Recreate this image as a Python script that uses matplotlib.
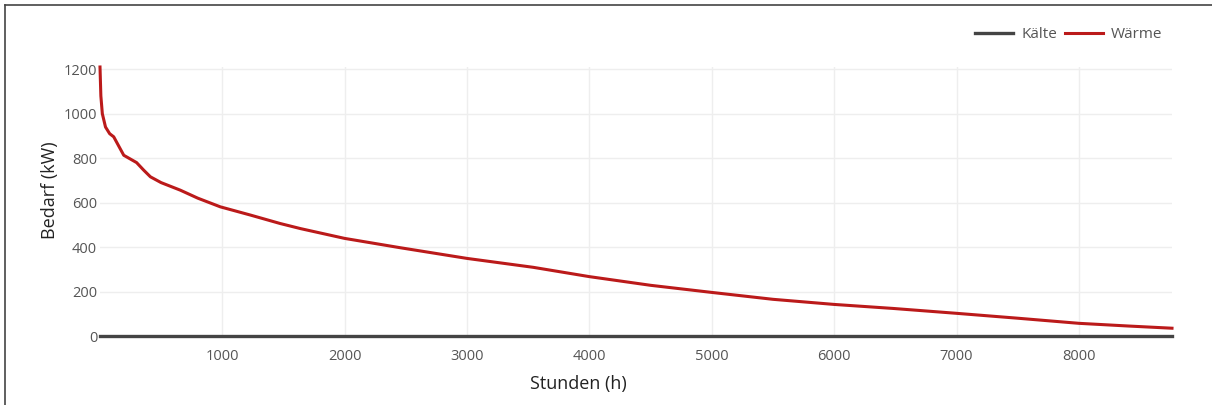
import matplotlib
matplotlib.use("Agg")
import matplotlib.pyplot as plt
from matplotlib.lines import Line2D

# load duration curve
hours = [1, 8, 20, 46, 80, 113, 195, 300, 358, 413, 500, 657, 800, 984,
         1230, 1473, 1640, 2000, 2455, 3000, 3540, 4000, 4500, 5000, 5500,
         6000, 6480, 7000, 7500, 8000, 8400, 8760]
waerme = [1210, 1080, 1000, 940, 910, 896, 813, 780, 746, 716, 690, 656,
          620, 581, 544, 506, 483, 439, 397, 349, 309, 267, 228, 196, 165,
          142, 124, 102, 80, 57, 45, 35]
kaelte_hours = [1, 8760]
kaelte = [0, 0]

x_ticks = [1000, 2000, 3000, 4000, 5000, 6000, 7000, 8000]
y_ticks = [0, 200, 400, 600, 800, 1000, 1200]

W, H = 1212, 405
plt.rcParams["font.family"] = ["Open Sans", "DejaVu Sans"]

fig = plt.figure(figsize=(W / 100, H / 100), dpi=100)
ax = fig.add_axes([100 / W, 1 - 336 / H, (1172 - 100) / W, (336 - 67) / H])

ax.plot(kaelte_hours, kaelte, color="#444444", lw=2.4, clip_on=False,
        label="Kälte", zorder=3)
ax.plot(hours, waerme, color="#bb1a1a", lw=2.2, clip_on=False,
        label="Wärme", zorder=4)

ax.set_xlim(1, 8760)
ax.set_ylim(0, 1210)
ax.set_xticks(x_ticks)
ax.set_yticks(y_ticks)
ax.grid(True, color="#eeeeee", lw=1)
ax.set_axisbelow(True)
for s in ax.spines.values():
    s.set_visible(False)
ax.tick_params(axis="both", length=0, labelsize=10.5, labelcolor="#555555")
ax.tick_params(axis="x", pad=9)
ax.tick_params(axis="y", pad=2)

fig.text(578 / W, 1 - 384 / H, "Stunden (h)", ha="center", va="center",
         fontsize=13, color="#222222")
fig.text(50 / W, 1 - 190 / H, "Bedarf (kW)", ha="center", va="center",
         rotation=90, fontsize=13, color="#222222")

leg = fig.legend(loc="center right", bbox_to_anchor=(1168 / W, 1 - 35 / H),
                 ncol=2, frameon=False, fontsize=11, handlelength=2.5,
                 handletextpad=0.5, columnspacing=0.5, borderaxespad=0)
for t in leg.get_texts():
    t.set_color("#555555")

# figure border (left + top, image is cropped)
fig.add_artist(Line2D([5 / W, 5 / W], [0, 1 - 5 / H], color="#444444", lw=1.2))
fig.add_artist(Line2D([5 / W, 1], [1 - 5 / H, 1 - 5 / H], color="#444444", lw=1.2))

fig.savefig("out.png", dpi=100)
